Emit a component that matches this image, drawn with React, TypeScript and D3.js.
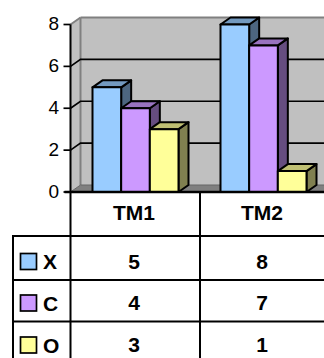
import React from "react";
import * as d3 from "d3";

const categories = ["TM1", "TM2"];
const seriesNames = ["X", "C", "O"];
const valuesX = [5, 8];
const valuesC = [4, 7];
const valuesO = [3, 1];
const yTicks = [0, 2, 4, 6, 8];
const seriesColors = ["#99ccff", "#cc99ff", "#ffff99"];
const topColors = ["#7399bf", "#9973bf", "#bfbf73"];
const sideColors = ["#4d6680", "#664d80", "#808050"];

const W = 324, H = 358;
const axisX = 70.5, base = 192, top8 = 24.5, dx = 10, dy = -7;
const FONT = "'Liberation Sans', Arial, sans-serif";

export default function App() {
  const series = [valuesX, valuesC, valuesO];
  const y = d3.scaleLinear().domain([0, 8]).range([base, top8]);
  const xBand = d3.scaleBand<string>().domain(categories).range([axisX + 1, axisX + 257]);
  const inner = d3.scaleBand<string>().domain(seriesNames).range([0, 86]);
  const barX = (ci: number, si: number) =>
    (xBand(categories[ci]) as number) + xBand.bandwidth() / 2 - 43 + (inner(seriesNames[si]) as number);
  const barW = inner.bandwidth();
  const rows = [236, 280, 321.5];
  const rowCenters = [261.5, 303, 345];
  const pts = (a: number[][]) => a.map((p) => p.join(",")).join(" ");
  const textX = (c: string) => (xBand(c) as number) + xBand.bandwidth() / 2 - 1.5;

  return (
    <svg width={W} height={H} style={{ position: "fixed", left: 0, top: 0, display: "block" }} fontFamily={FONT}>
      <rect width={W} height={H} fill="#fff" />
      {/* back wall, side wall, floor */}
      <rect x={axisX + dx} y={top8 + dy} width={W} height={base - top8} fill="#c0c0c0" />
      <polygon points={pts([[axisX, top8], [axisX + dx, top8 + dy], [axisX + dx, base + dy], [axisX, base]])} fill="#c0c0c0" />
      <polygon points={pts([[axisX, base], [axisX + dx, base + dy], [W + 10, base + dy], [W, base]])} fill="#808080" />
      <line x1={axisX + dx} x2={W} y1={top8 + dy} y2={top8 + dy} stroke="#808080" strokeWidth={2} />
      <line x1={axisX + dx} x2={axisX + dx} y1={top8 + dy} y2={base + dy} stroke="#808080" strokeWidth={2} />
      <line x1={axisX} x2={axisX + dx} y1={top8} y2={top8 + dy} stroke="#808080" strokeWidth={2} />
      <line x1={axisX} x2={axisX + dx} y1={base} y2={base + dy} stroke="#666" strokeWidth={1} />
      <line x1={axisX + dx} x2={W} y1={base + dy} y2={base + dy} stroke="#666" strokeWidth={1} />

      {/* gridlines */}
      {yTicks.filter((t) => t > 0 && t < 8).map((t) => (
        <polyline key={t} points={pts([[axisX, y(t)], [axisX + dx, y(t) + dy], [W, y(t) + dy]])} fill="none" stroke="#000" strokeWidth={1.7} />
      ))}

      {/* bars */}
      {categories.map((c, ci) =>
        series.map((vals, si) => {
          const x0 = barX(ci, si), y0 = y(vals[ci]);
          return (
            <g key={c + si} stroke="#000" strokeWidth={2} strokeLinejoin="round">
              <polygon points={pts([[x0 + barW, y0], [x0 + barW + dx, y0 + dy], [x0 + barW + dx, base + dy], [x0 + barW, base]])} fill={sideColors[si]} />
              <polygon points={pts([[x0, y0], [x0 + dx, y0 + dy], [x0 + barW + dx, y0 + dy], [x0 + barW, y0]])} fill={topColors[si]} />
              <rect x={x0} y={y0} width={barW} height={base - y0} fill={seriesColors[si]} />
            </g>
          );
        })
      )}

      {/* axis */}
      <line x1={axisX} x2={axisX} y1={top8} y2={H} stroke="#000" strokeWidth={2} />
      <line x1={axisX - 6} x2={W} y1={base} y2={base} stroke="#000" strokeWidth={2.5} />
      {yTicks.map((t) => (
        <g key={t}>
          <line x1={axisX - 7} x2={axisX} y1={y(t)} y2={y(t)} stroke="#000" strokeWidth={1.7} />
          <text x={59} y={y(t) + 5.5} textAnchor="end" fontSize={19} fill="#000">{t}</text>
        </g>
      ))}

      {/* data table */}
      <line x1={200} x2={200} y1={base} y2={H} stroke="#000" strokeWidth={2} />
      <line x1={13} x2={13} y1={rows[0]} y2={H} stroke="#000" strokeWidth={2} />
      {rows.map((r) => (
        <line key={r} x1={12} x2={W} y1={r} y2={r} stroke="#000" strokeWidth={2} />
      ))}
      {categories.map((c) => (
        <text key={c} x={textX(c)} y={220} textAnchor="middle" fontSize={21} fontWeight="bold">{c}</text>
      ))}
      {seriesNames.map((s, si) => {
        const cy = rowCenters[si];
        return (
          <g key={s}>
            <rect x={20.5} y={cy - 8} width={16} height={16} fill={seriesColors[si]} stroke="#000" strokeWidth={1.7} />
            <text x={43} y={cy + 7.5} fontSize={21} fontWeight="bold">{s}</text>
            {categories.map((c, ci) => (
              <text key={c} x={textX(c)} y={cy + 7} textAnchor="middle" fontSize={21} fontWeight="bold">{series[si][ci]}</text>
            ))}
          </g>
        );
      })}
    </svg>
  );
}
